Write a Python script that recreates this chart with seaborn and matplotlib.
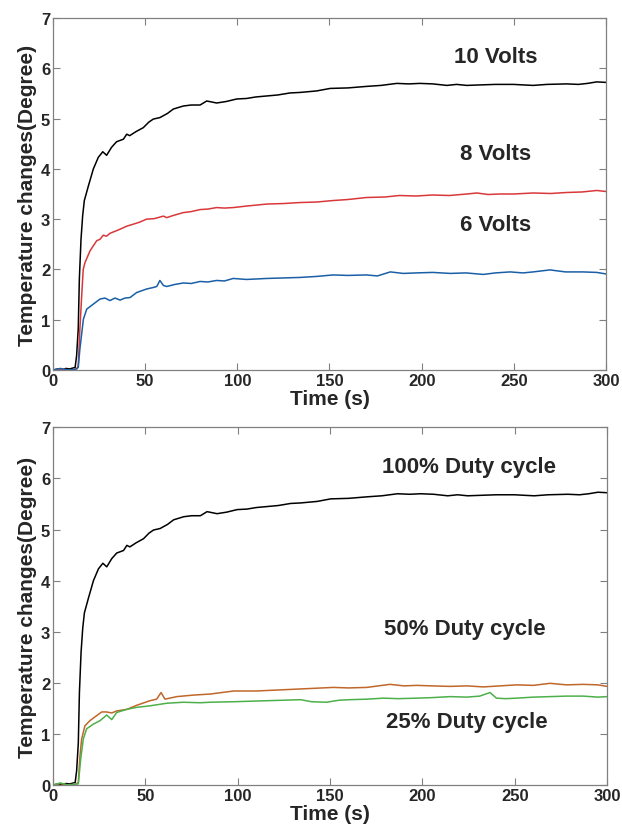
import numpy as np
import pandas as pd
import matplotlib
matplotlib.use("Agg")
import matplotlib.pyplot as plt
import seaborn as sns

# ---- data (time in s, temperature change in degree) ----
t_10v = [0, 3, 5, 7, 9, 11, 12, 12.8, 13.7, 14.3, 15.2, 16.1, 17, 19.2, 21.9, 24.6, 27, 29.1,
         31.8, 34.5, 38.2, 40, 41.6, 45, 49, 52, 54.4, 58, 62, 65.3, 70.7, 75, 79.8, 83.4,
         88.8, 94, 99.7, 105, 110, 116, 122, 128.6, 134, 143, 150.4, 160, 170, 178, 186.5,
         193, 199, 206, 213.7, 219, 224.5, 232, 240, 249.8, 255, 260.5, 268, 278.7, 285,
         290, 295, 300]
v_10v = [0.0, 0.02, 0.0, 0.03, 0.02, 0.04, 0.05, 0.28, 0.82, 1.81, 2.6, 3.07, 3.37, 3.66, 4.0,
         4.23, 4.34, 4.27, 4.43, 4.54, 4.59, 4.69, 4.66, 4.74, 4.82, 4.93, 4.99, 5.02, 5.1,
         5.19, 5.25, 5.27, 5.27, 5.35, 5.31, 5.34, 5.39, 5.4, 5.43, 5.45, 5.47, 5.51, 5.52,
         5.55, 5.6, 5.61, 5.64, 5.66, 5.70, 5.69, 5.70, 5.69, 5.66, 5.68, 5.66, 5.67, 5.68,
         5.68, 5.67, 5.66, 5.68, 5.69, 5.68, 5.70, 5.73, 5.72]

t_8v = [0, 5, 10, 13, 13.7, 14.6, 15.6, 16.4, 17.4, 20.1, 23.7, 25.5, 27.3, 29, 31, 34.5, 36.4,
        40, 43.6, 47, 50.8, 55, 59.9, 61.7, 65, 70.7, 75, 79.8, 84, 88.8, 93, 97.8, 105, 116,
        125, 134, 143, 152, 160, 170, 180, 188, 197, 206, 215, 224.5, 230, 236, 242.6, 250,
        260.5, 270, 278.7, 287, 295, 300]
v_8v = [0.0, 0.01, 0.0, 0.02, 0.09, 0.82, 1.5, 2.0, 2.14, 2.37, 2.57, 2.6, 2.68, 2.66, 2.72,
        2.77, 2.80, 2.86, 2.90, 2.94, 3.0, 3.01, 3.06, 3.03, 3.07, 3.13, 3.15, 3.19, 3.2,
        3.23, 3.22, 3.23, 3.26, 3.30, 3.31, 3.33, 3.34, 3.37, 3.39, 3.43, 3.44, 3.47, 3.46,
        3.48, 3.47, 3.50, 3.52, 3.49, 3.50, 3.50, 3.52, 3.51, 3.53, 3.54, 3.57, 3.55]

t_6v = [0, 4, 8, 12, 13.7, 14.6, 16.5, 18.3, 21.9, 25.5, 28.2, 30.9, 33.6, 36.4, 39.1, 41.8,
        45.4, 50.8, 54.4, 56.3, 58, 59.9, 61.7, 66, 70.7, 75, 79.8, 84, 88.8, 93, 97.8, 105,
        116, 125, 134, 143, 152, 160, 170, 176, 183, 190, 197, 206, 215.5, 224, 233.5, 240,
        248, 255, 260.5, 269.6, 278, 287.6, 295, 300]
v_6v = [0.0, 0.03, 0.0, 0.01, 0.05, 0.42, 1.01, 1.21, 1.31, 1.41, 1.43, 1.38, 1.43, 1.39, 1.43,
        1.44, 1.54, 1.61, 1.64, 1.66, 1.78, 1.68, 1.66, 1.70, 1.73, 1.72, 1.76, 1.75, 1.78,
        1.77, 1.82, 1.80, 1.82, 1.83, 1.84, 1.86, 1.89, 1.88, 1.89, 1.87, 1.95, 1.92, 1.93,
        1.94, 1.92, 1.93, 1.90, 1.93, 1.95, 1.93, 1.95, 1.99, 1.95, 1.95, 1.94, 1.91]

# 100% duty cycle is the same trace as 10 V
t_100 = t_10v
v_100 = v_10v

t_50 = [0, 4, 8, 12, 13.7, 14.6, 15.5, 17.3, 20, 23.7, 26.4, 29, 31.8, 34.5, 39.9, 45.3, 52.5,
        56.1, 58.5, 60.6, 67, 76, 85, 97.8, 110, 122, 134, 151.7, 160, 169.8, 182.4, 190,
        196.9, 205, 214.9, 224, 233, 242, 251, 260, 269, 278, 287, 295, 300]
v_50 = [0.0, 0.03, 0.0, 0.01, 0.05, 0.57, 0.9, 1.16, 1.26, 1.36, 1.43, 1.43, 1.41, 1.45, 1.48,
        1.56, 1.65, 1.68, 1.81, 1.68, 1.73, 1.76, 1.78, 1.84, 1.84, 1.86, 1.88, 1.91, 1.90,
        1.91, 1.97, 1.94, 1.95, 1.94, 1.93, 1.94, 1.92, 1.94, 1.96, 1.95, 1.99, 1.96, 1.97,
        1.96, 1.93]

t_25 = [0, 4, 8, 12, 13.7, 15, 16.4, 18.2, 21.8, 25.5, 29.1, 31.8, 34.5, 39.9, 45.3, 52.5,
        61.5, 70.5, 79.8, 85, 97.8, 116, 134, 140, 148, 155, 160.6, 170, 178.8, 187, 196.9,
        205, 215, 224, 231, 236.6, 240, 245, 251, 260, 269, 278, 287, 295, 300]
v_25 = [0.0, 0.04, 0.0, 0.02, 0.02, 0.51, 0.9, 1.1, 1.19, 1.26, 1.37, 1.28, 1.42, 1.48, 1.52,
        1.55, 1.60, 1.62, 1.61, 1.62, 1.63, 1.65, 1.67, 1.63, 1.62, 1.66, 1.67, 1.68, 1.70,
        1.69, 1.70, 1.71, 1.73, 1.72, 1.74, 1.81, 1.70, 1.69, 1.70, 1.72, 1.73, 1.74, 1.74,
        1.72, 1.73]

top_series = [(t_10v, v_10v, '#000000'), (t_8v, v_8v, '#d9383a'), (t_6v, v_6v, '#1a5fa6')]
top_labels = [('10 Volts', 240, 6.24), ('8 Volts', 240, 4.3), ('6 Volts', 240, 2.9)]

bottom_series = [(t_100, v_100, '#000000'), (t_50, v_50, '#c0672a'), (t_25, v_25, '#4db04a')]
bottom_labels = [('100% Duty cycle', 225, 6.24), ('50% Duty cycle', 223, 3.07),
                 ('25% Duty cycle', 224, 1.25)]

x_ticks = [0, 50, 100, 150, 200, 250, 300]
y_ticks = [0, 1, 2, 3, 4, 5, 6, 7]

sns.set_style('white')
plt.rcParams['font.family'] = ['Liberation Sans', 'DejaVu Sans']
plt.rcParams['font.weight'] = 'bold'

fig = plt.figure(figsize=(6.22, 8.28), dpi=100)
ax_top = fig.add_axes([0.0852, 0.552, 0.889, 0.425])
ax_bot = fig.add_axes([0.0852, 0.0507, 0.891, 0.432])


def draw_panel(ax, series, labels):
    for t, v, c in series:
        df = pd.DataFrame({'t': t, 'v': v})
        sns.lineplot(data=df, x='t', y='v', ax=ax, color=c, lw=1.1, estimator=None)
    for txt, x, y in labels:
        ax.text(x, y, txt, ha='center', va='center', fontsize=16, fontweight='bold')
    ax.set_xlim(0, 300)
    ax.set_ylim(0, 7)
    ax.set_xticks(x_ticks)
    ax.set_yticks(y_ticks)
    ax.tick_params(direction='in', length=5, width=0.8, color='#808080',
                   top=True, right=True, bottom=True, left=True,
                   labelsize=12, pad=2)
    for lab in ax.get_xticklabels() + ax.get_yticklabels():
        lab.set_fontweight('bold')
    for s in ax.spines.values():
        s.set_color('#808080')
        s.set_linewidth(0.9)
    ax.set_xlabel('Time (s)', fontsize=15, fontweight='bold', labelpad=1)
    ax.set_ylabel('Temperature changes(Degree)', fontsize=15, fontweight='bold', labelpad=3)


draw_panel(ax_top, top_series, top_labels)
draw_panel(ax_bot, bottom_series, bottom_labels)

fig.savefig('out.png', dpi=100)
